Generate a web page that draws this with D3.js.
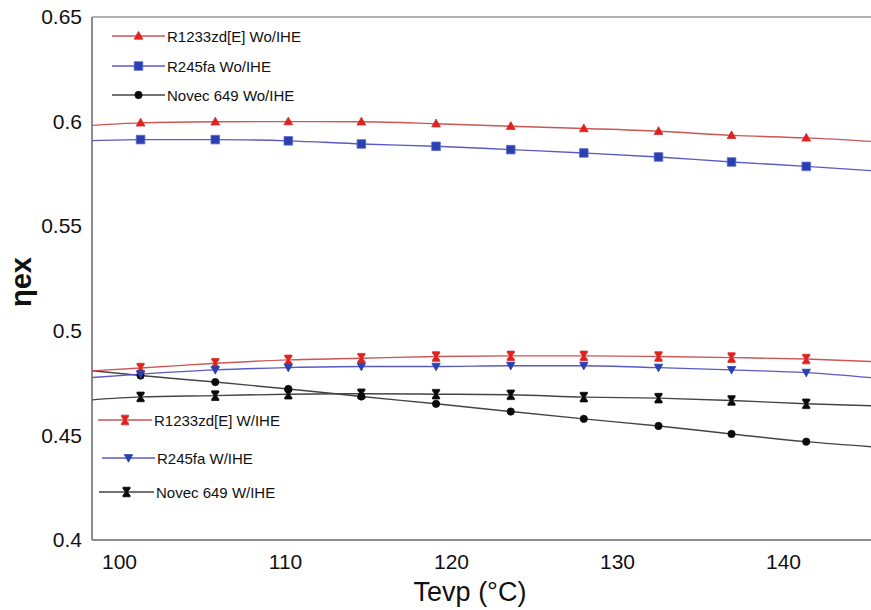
<!DOCTYPE html>
<html>
<head>
<meta charset="utf-8">
<script src="https://cdn.jsdelivr.net/npm/d3@7/dist/d3.min.js"></script>
<style>
  html, body { margin: 0; padding: 0; background: #fff; }
  svg { display: block; font-family: "Liberation Sans", Arial, sans-serif; }
</style>
</head>
<body>
<svg id="chart" width="871" height="610"></svg>
<script>
// Evaporation temperature (°C): first and last entries are the curve ends,
// the ones between carry the plotted markers.
const tevp = [98.4, 101.3, 105.8, 110.2, 114.6, 119.1, 123.6, 128.0, 132.5, 136.9, 141.4, 146.0];

// Exergy efficiency, without internal heat exchanger
const r1233zdWo = [0.5982, 0.5994, 0.5999, 0.6000, 0.5999, 0.5990, 0.5978, 0.5967, 0.5954, 0.5934, 0.5922, 0.5902];
const r245faWo  = [0.5909, 0.5914, 0.5914, 0.5908, 0.5893, 0.5882, 0.5866, 0.5850, 0.5831, 0.5807, 0.5786, 0.5762];
const novecWo   = [0.4809, 0.4786, 0.4755, 0.4722, 0.4686, 0.4651, 0.4614, 0.4579, 0.4545, 0.4507, 0.4470, 0.4442];

// Exergy efficiency, with internal heat exchanger
const r1233zdW  = [0.4809, 0.4822, 0.4845, 0.4861, 0.4869, 0.4877, 0.4880, 0.4880, 0.4877, 0.4872, 0.4865, 0.4851];
const r245faW   = [0.4777, 0.4793, 0.4813, 0.4824, 0.4829, 0.4829, 0.4833, 0.4833, 0.4824, 0.4813, 0.4800, 0.4771];
const novecW    = [0.4670, 0.4684, 0.4690, 0.4697, 0.4699, 0.4697, 0.4694, 0.4683, 0.4678, 0.4667, 0.4651, 0.4640];

const seriesNames = [
  "R1233zd[E] Wo/IHE", "R245fa Wo/IHE", "Novec 649 Wo/IHE",
  "R1233zd[E] W/IHE", "R245fa W/IHE", "Novec 649 W/IHE"
];

const xTicks = [100, 110, 120, 130, 140];
const yTicks = [0.4, 0.45, 0.5, 0.55, 0.6, 0.65];
const yTickLabels = ["0.4", "0.45", "0.5", "0.55", "0.6", "0.65"];

const xTitle = "Tevp (°C)";

// ---- layout ----
const svg = d3.select("#chart");
const plotLeft = 92, plotTop = 17, plotBottom = 540, plotRight = 871;

const x = d3.scaleLinear().domain([100, 140]).range([119, 783]);
const y = d3.scaleLinear().domain([0.4, 0.65]).range([plotBottom, plotTop]);

// marker shapes
const markerPaths = {
  triUp:   "M0,-4.6L4.4,3.2L-4.4,3.2Z",
  triDown: "M0,4.2L4.2,-3.4L-4.2,-3.4Z",
  square:  "M-4.3,-4.3H4.3V4.3H-4.3Z",
  circle:  d3.symbol(d3.symbolCircle, 42)(),
  hourglass: "M-3.6,-4.8H3.6V-3.4L1,0L3.6,3.4V4.8H-3.6V3.4L-1,0L-3.6,-3.4Z"
};

const series = [
  { name: seriesNames[0], values: r1233zdWo, line: "#cc5555", fill: "#e5201c", stroke: "#d03030", shape: "triUp" },
  { name: seriesNames[1], values: r245faWo,  line: "#5a5ac4", fill: "#2a40b0", stroke: "#5a6cd0", shape: "square" },
  { name: seriesNames[2], values: novecWo,   line: "#444444", fill: "#0a0a0a", stroke: "#0a0a0a", shape: "circle" },
  { name: seriesNames[3], values: r1233zdW,  line: "#cc5555", fill: "#e5201c", stroke: "#d03030", shape: "hourglass" },
  { name: seriesNames[4], values: r245faW,   line: "#5a5ac4", fill: "#2a40b0", stroke: "#2a40b0", shape: "triDown" },
  { name: seriesNames[5], values: novecW,    line: "#444444", fill: "#0a0a0a", stroke: "#0a0a0a", shape: "hourglass" }
];

// clip area for the curves
svg.append("defs").append("clipPath").attr("id", "plotClip")
  .append("rect").attr("x", plotLeft).attr("y", plotTop)
  .attr("width", plotRight - plotLeft).attr("height", plotBottom - plotTop);

// frame: top border
svg.append("line")
  .attr("x1", plotLeft).attr("x2", plotRight).attr("y1", plotTop).attr("y2", plotTop)
  .attr("stroke", "#9a9a9a").attr("stroke-width", 1.5);

// axes
const yAxis = d3.axisLeft(y).tickValues(yTicks)
  .tickFormat((d, i) => yTickLabels[i]).tickSize(0).tickPadding(10);
const gy = svg.append("g").attr("transform", `translate(${plotLeft},0)`).call(yAxis);
gy.select(".domain").attr("stroke", "#8c8c8c").attr("stroke-width", 2)
  .attr("d", `M0,${plotTop}V${plotBottom}`);
gy.selectAll(".tick text").attr("font-size", 21).attr("fill", "#111")
  .attr("font-family", "Liberation Sans, Arial, sans-serif");

const xAxis = d3.axisBottom(x).tickValues(xTicks).tickSize(0).tickPadding(14);
const gx = svg.append("g").attr("transform", `translate(0,${plotBottom})`).call(xAxis);
gx.select(".domain").attr("stroke", "#8c8c8c").attr("stroke-width", 2)
  .attr("d", `M${plotLeft},0H${plotRight}`);
gx.selectAll(".tick text").attr("font-size", 21).attr("fill", "#111")
  .attr("font-family", "Liberation Sans, Arial, sans-serif");

// axis titles
svg.append("text")
  .attr("x", 470).attr("y", 601)
  .attr("text-anchor", "middle")
  .attr("font-size", 27).attr("fill", "#111")
  .text(xTitle);

svg.append("text")
  .attr("transform", "translate(31,282) rotate(-90)")
  .attr("text-anchor", "middle")
  .attr("font-size", 29).attr("font-weight", "bold").attr("fill", "#111")
  .text("ηex");

// curves
const line = d3.line()
  .x((d, i) => x(tevp[i]))
  .y(d => y(d))
  .curve(d3.curveMonotoneX);

const plot = svg.append("g").attr("clip-path", "url(#plotClip)");

series.forEach(s => {
  plot.append("path")
    .attr("d", line(s.values))
    .attr("fill", "none")
    .attr("stroke", s.line)
    .attr("stroke-width", 1.4);
});

series.forEach(s => {
  const pts = s.values.map((v, i) => ({ t: tevp[i], v, i }))
    .filter(p => p.i > 0 && p.i < tevp.length - 1);
  plot.selectAll(null).data(pts).enter().append("path")
    .attr("d", markerPaths[s.shape])
    .attr("transform", p => `translate(${x(p.t)},${y(p.v)})`)
    .attr("fill", s.fill)
    .attr("stroke", s.stroke)
    .attr("stroke-width", 0.8);
});

// legends
const legendRows = [
  { s: series[0], x0: 112, x1: 165, yy: 36 },
  { s: series[1], x0: 112, x1: 165, yy: 66 },
  { s: series[2], x0: 112, x1: 165, yy: 95 },
  { s: series[3], x0: 98,  x1: 152, yy: 420 },
  { s: series[4], x0: 102, x1: 155, yy: 458 },
  { s: series[5], x0: 99,  x1: 154, yy: 492 }
];

const lg = svg.append("g");
legendRows.forEach(r => {
  lg.append("line")
    .attr("x1", r.x0).attr("x2", r.x1).attr("y1", r.yy).attr("y2", r.yy)
    .attr("stroke", r.s.line).attr("stroke-width", 1.4);
  lg.append("path")
    .attr("d", markerPaths[r.s.shape])
    .attr("transform", `translate(${(r.x0 + r.x1) / 2},${r.yy})`)
    .attr("fill", r.s.fill).attr("stroke", r.s.stroke).attr("stroke-width", 0.8);
  lg.append("text")
    .attr("x", r.x1 + 2).attr("y", r.yy + 5.5)
    .attr("font-size", 15).attr("fill", "#111")
    .text(r.s.name);
});
</script>
</body>
</html>
